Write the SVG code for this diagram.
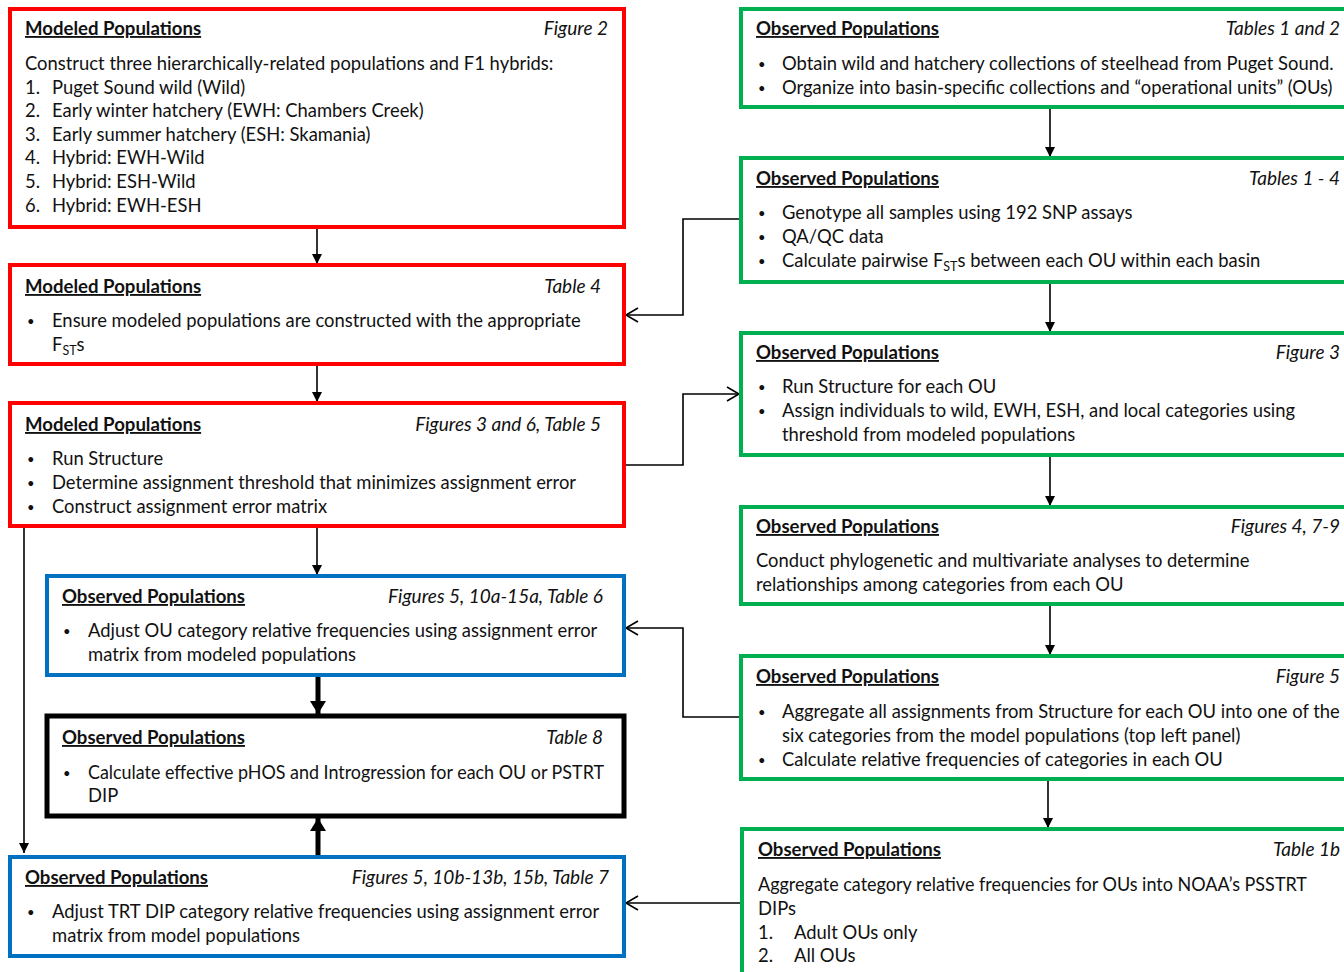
<svg xmlns="http://www.w3.org/2000/svg" width="1344" height="972" viewBox="0 0 1344 972">
<defs>
<marker id="solid" markerUnits="userSpaceOnUse" markerWidth="12" markerHeight="12" refX="10" refY="5" orient="auto">
<path d="M0,0 L10,5 L0,10 Z" fill="#000"/>
</marker>
<marker id="thick" markerUnits="userSpaceOnUse" markerWidth="16" markerHeight="16" refX="13" refY="8" orient="auto">
<path d="M0,0 L13,8 L0,16 Z" fill="#000"/>
</marker>
<marker id="open" markerUnits="userSpaceOnUse" markerWidth="16" markerHeight="16" refX="14" refY="8" orient="auto">
<path d="M2,1 L14,8 L2,15" fill="none" stroke="#000" stroke-width="1.6"/>
</marker>
<style>
text{font-family:Lato,"Open Sans","Liberation Sans",sans-serif;font-size:18.4px;fill:#111;}
.t{font-weight:bold;text-decoration:underline;font-size:18.6px;}
.r{font-style:italic;text-anchor:end;font-size:19px;}
.b{font-size:13px;}
.red{fill:#fff;stroke:#FF0000;stroke-width:4;}
.blue{fill:#fff;stroke:#0070C0;stroke-width:4;}
.green{fill:#fff;stroke:#00B050;stroke-width:4;}
.black{fill:#fff;stroke:#000;stroke-width:5;}
.c{fill:none;stroke:#000;stroke-width:1.6;}
.ct{fill:none;stroke:#000;stroke-width:5;}
.sub{font-size:12.5px;}
</style>
</defs>
<rect width="1344" height="972" fill="#fff"/>

<g id="connectors">
<line class="c" x1="317" y1="227" x2="317" y2="264" marker-end="url(#solid)"/>
<line class="c" x1="317" y1="364" x2="317" y2="402" marker-end="url(#solid)"/>
<line class="c" x1="317" y1="526" x2="317" y2="575" marker-end="url(#solid)"/>
<line class="ct" x1="318" y1="676" x2="318" y2="714" marker-end="url(#thick)"/>
<line class="ct" x1="318" y1="855" x2="318" y2="818" marker-end="url(#thick)"/>
<polyline class="c" points="24,526 24,853" marker-end="url(#solid)"/>
<line class="c" x1="1050" y1="107" x2="1050" y2="157" marker-end="url(#solid)"/>
<line class="c" x1="1050" y1="282" x2="1050" y2="332" marker-end="url(#solid)"/>
<line class="c" x1="1050" y1="455" x2="1050" y2="506" marker-end="url(#solid)"/>
<line class="c" x1="1050" y1="604" x2="1050" y2="655" marker-end="url(#solid)"/>
<line class="c" x1="1048" y1="779" x2="1048" y2="828" marker-end="url(#solid)"/>
<polyline class="c" points="741,219 683,219 683,315 626,315" marker-end="url(#open)"/>
<polyline class="c" points="626,465 683,465 683,394 739,394" marker-end="url(#open)"/>
<polyline class="c" points="741,717 683,717 683,628 626,628" marker-end="url(#open)"/>
<polyline class="c" points="742,903 626,903" marker-end="url(#open)"/>
</g>

<g id="modeled1">
<rect class="red" x="10" y="9" width="614" height="218"/>
<text class="t" x="25" y="35">Modeled Populations</text>
<text class="r" x="608" y="35">Figure 2</text>
<text x="25" y="70">Construct three hierarchically-related populations and F1 hybrids:</text>
<text x="25" y="94">1.</text><text x="52" y="94">Puget Sound wild (Wild)</text>
<text x="25" y="117">2.</text><text x="52" y="117">Early winter hatchery (EWH: Chambers Creek)</text>
<text x="25" y="141">3.</text><text x="52" y="141">Early summer hatchery (ESH: Skamania)</text>
<text x="25" y="164">4.</text><text x="52" y="164">Hybrid: EWH-Wild</text>
<text x="25" y="188">5.</text><text x="52" y="188">Hybrid: ESH-Wild</text>
<text x="25" y="212">6.</text><text x="52" y="212">Hybrid: EWH-ESH</text>
</g>

<g id="modeled2">
<rect class="red" x="10" y="265" width="614" height="99"/>
<text class="t" x="25" y="293">Modeled Populations</text>
<text class="r" x="601" y="293">Table 4</text>
<text class="b" x="27" y="326">•</text><text x="52" y="327">Ensure modeled populations are constructed with the appropriate</text>
<text x="52" y="351">F<tspan class="sub" dy="4">ST</tspan><tspan dy="-4">s</tspan></text>
</g>

<g id="modeled3">
<rect class="red" x="10" y="403" width="614" height="123"/>
<text class="t" x="25" y="431">Modeled Populations</text>
<text class="r" x="601" y="431">Figures 3 and 6, Table 5</text>
<text class="b" x="27" y="464">•</text><text x="52" y="465">Run Structure</text>
<text class="b" x="27" y="488">•</text><text x="52" y="489">Determine assignment threshold that minimizes assignment error</text>
<text class="b" x="27" y="512">•</text><text x="52" y="513">Construct assignment error matrix</text>
</g>

<g id="observed-ou">
<rect class="blue" x="47" y="576" width="577" height="99"/>
<text class="t" x="62" y="603">Observed Populations</text>
<text class="r" x="603" y="603">Figures 5, 10a-15a, Table 6</text>
<text class="b" x="63" y="636">•</text><text x="88" y="637">Adjust OU category relative frequencies using assignment error</text>
<text x="88" y="661">matrix from modeled populations</text>
</g>

<g id="observed-phos">
<rect class="black" x="47" y="716" width="577" height="100"/>
<text class="t" x="62" y="744">Observed Populations</text>
<text class="r" x="603" y="744">Table 8</text>
<text class="b" x="63" y="778">•</text><text x="88" y="779" textLength="516" lengthAdjust="spacingAndGlyphs">Calculate effective pHOS and Introgression for each OU or PSTRT</text>
<text x="88" y="802">DIP</text>
</g>

<g id="observed-dip">
<rect class="blue" x="10" y="857" width="614" height="99"/>
<text class="t" x="25" y="884">Observed Populations</text>
<text class="r" x="609" y="884">Figures 5, 10b-13b, 15b, Table 7</text>
<text class="b" x="27" y="917">•</text><text x="52" y="918">Adjust TRT DIP category relative frequencies using assignment error</text>
<text x="52" y="942">matrix from model populations</text>
</g>

<g id="observed1">
<rect class="green" x="741" y="9" width="610" height="98"/>
<text class="t" x="756" y="35">Observed Populations</text>
<text class="r" x="1340" y="35">Tables 1 and 2</text>
<text class="b" x="758" y="69">•</text><text x="782" y="70">Obtain wild and hatchery collections of steelhead from Puget Sound.</text>
<text class="b" x="758" y="93">•</text><text x="782" y="94">Organize into basin-specific collections and “operational units” (OUs)</text>
</g>

<g id="observed2">
<rect class="green" x="741" y="158" width="610" height="124"/>
<text class="t" x="756" y="185">Observed Populations</text>
<text class="r" x="1340" y="185">Tables 1 - 4</text>
<text class="b" x="758" y="218">•</text><text x="782" y="219">Genotype all samples using 192 SNP assays</text>
<text class="b" x="758" y="242">•</text><text x="782" y="243">QA/QC data</text>
<text class="b" x="758" y="266">•</text><text x="782" y="267">Calculate pairwise F<tspan class="sub" dy="4">ST</tspan><tspan dy="-4">s between each OU within each basin</tspan></text>
</g>

<g id="observed3">
<rect class="green" x="741" y="333" width="610" height="122"/>
<text class="t" x="756" y="359">Observed Populations</text>
<text class="r" x="1340" y="359">Figure 3</text>
<text class="b" x="758" y="392">•</text><text x="782" y="393">Run Structure for each OU</text>
<text class="b" x="758" y="416">•</text><text x="782" y="417">Assign individuals to wild, EWH, ESH, and local  categories using</text>
<text x="782" y="441">threshold from modeled populations</text>
</g>

<g id="observed4">
<rect class="green" x="741" y="507" width="610" height="97"/>
<text class="t" x="756" y="533">Observed Populations</text>
<text class="r" x="1340" y="533">Figures 4, 7-9</text>
<text x="756" y="567">Conduct phylogenetic and multivariate analyses to determine</text>
<text x="756" y="591">relationships among categories from each OU</text>
</g>

<g id="observed5">
<rect class="green" x="741" y="656" width="610" height="123"/>
<text class="t" x="756" y="683">Observed Populations</text>
<text class="r" x="1340" y="683">Figure 5</text>
<text class="b" x="758" y="717">•</text><text x="782" y="718">Aggregate all assignments from Structure for each OU into one of the</text>
<text x="782" y="742">six categories from the model populations (top left  panel)</text>
<text class="b" x="758" y="765">•</text><text x="782" y="766">Calculate relative frequencies of categories in each OU</text>
</g>

<g id="observed6">
<rect class="green" x="742" y="829" width="610" height="160"/>
<text class="t" x="758" y="856">Observed Populations</text>
<text class="r" x="1340" y="856">Table 1b</text>
<text x="758" y="891" textLength="549" lengthAdjust="spacingAndGlyphs">Aggregate category relative frequencies for OUs into NOAA’s PSSTRT</text>
<text x="758" y="915">DIPs</text>
<text x="758" y="939">1.</text><text x="794" y="939">Adult OUs only</text>
<text x="758" y="962">2.</text><text x="794" y="962">All OUs</text>
</g>
</svg>
